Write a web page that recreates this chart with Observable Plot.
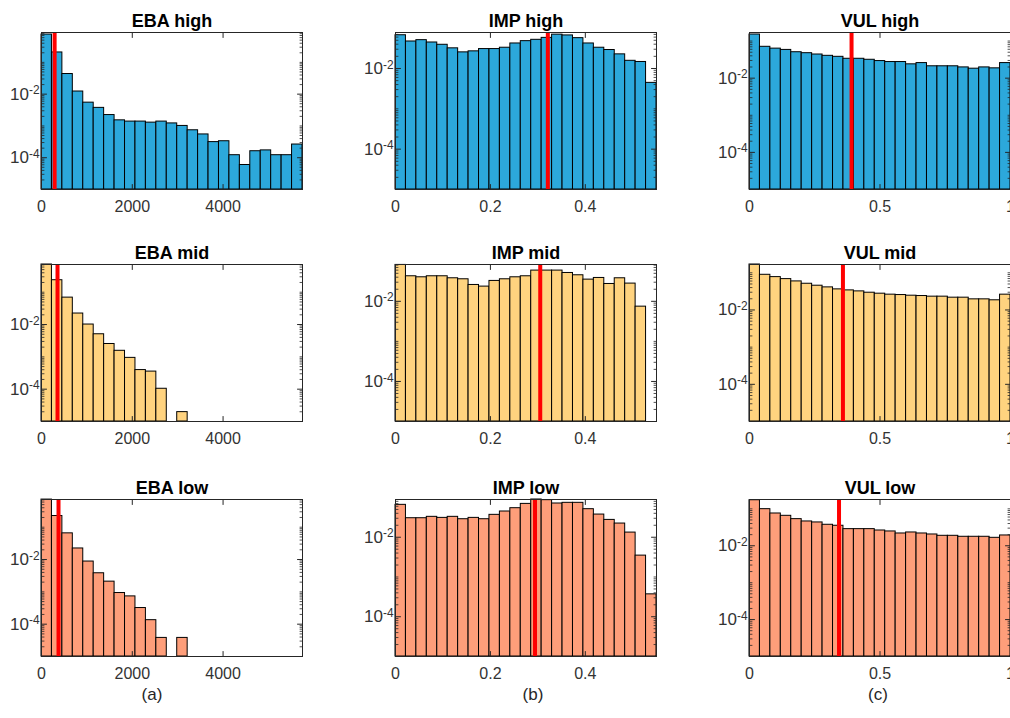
<!DOCTYPE html>
<html><head><meta charset="utf-8">
<script src="https://cdn.jsdelivr.net/npm/d3@7"></script>
<script src="https://cdn.jsdelivr.net/npm/@observablehq/plot@0.6"></script>
<style>
html,body{margin:0;padding:0;background:#fff;overflow:hidden;}
#root{position:relative;width:1010px;height:718px;overflow:hidden;font-family:"Liberation Sans",Arial,sans-serif;background:#fff;}
.panel{position:absolute;}
.cap{position:absolute;font-size:17px;line-height:17px;color:#262626;transform:translateX(-50%);white-space:nowrap;}
</style></head><body><div id="root"></div>
<script>
// ---- data (probability per bin, log scale) ----
const ebaHigh = [0.75,0.205,0.043,0.0121,0.0054,0.0037,0.0022,0.0015,0.00137,0.00137,0.00127,0.00137,0.0012,0.001,0.00073,0.00054,0.00031,0.00033,0.00012,0.000059,0.00016,0.00017,0.00012,0.00012,0.00026];
const ebaMid  = [0.72,0.235,0.068,0.0219,0.01,0.005,0.0025,0.00154,0.00093,0.00039,0.00035,0.000103,0,0.0000195,0,0,0,0,0,0,0,0,0,0,0];
const ebaLow  = [0.716,0.222,0.0646,0.022,0.00867,0.00376,0.00207,0.00092,0.000724,0.000316,0.000133,0.0000376,0,0.0000376,0,0,0,0,0,0,0,0,0,0,0];
const impHigh = [0.0667,0.0467,0.0504,0.0441,0.0387,0.0316,0.0251,0.0266,0.0303,0.0303,0.0327,0.0417,0.0476,0.0514,0.0574,0.069,0.066,0.0565,0.0417,0.0327,0.0287,0.0224,0.0155,0.0145,0.0044];
const impMid  = [0.081,0.0422,0.0398,0.0422,0.0422,0.0376,0.0355,0.0256,0.0233,0.0323,0.0355,0.0398,0.0422,0.0585,0.0585,0.0585,0.051,0.0447,0.0348,0.0383,0.0271,0.0376,0.0277,0.00736,0];
const impLow  = [0.0653,0.0301,0.0301,0.0326,0.0307,0.0326,0.0284,0.0307,0.0284,0.0366,0.0444,0.0538,0.069,0.089,0.0857,0.0706,0.0734,0.0734,0.0508,0.0372,0.0273,0.0221,0.0131,0.00345,0.000366];
const vulHigh = [0.15,0.07,0.0625,0.0577,0.05,0.0471,0.0434,0.04,0.0376,0.0333,0.0333,0.0313,0.0289,0.0272,0.0272,0.0236,0.0255,0.0209,0.0209,0.0209,0.0195,0.018,0.0195,0.0184,0.0255];
const vulMid  = [0.167,0.0883,0.0765,0.0676,0.0586,0.0507,0.0449,0.0405,0.0358,0.0336,0.0316,0.0291,0.0274,0.0258,0.0252,0.0242,0.0237,0.0228,0.0228,0.0214,0.0214,0.0193,0.0193,0.0182,0.0258];
const vulLow  = [0.171,0.098,0.0748,0.0647,0.0526,0.0455,0.0428,0.037,0.0348,0.0282,0.0282,0.0282,0.0259,0.0244,0.0215,0.0229,0.0215,0.0202,0.0186,0.0186,0.0175,0.0175,0.0175,0.0164,0.019];

// red reference lines
const ebaMarkers = [289, 353, 375];
const impMarkers = [0.321, 0.305, 0.294];
const vulMarkers = [0.391, 0.358, 0.343];

// bins and axes
const ebaBin = 230, impBin = 0.022, vulBin = 0.04;
const ebaTicks = [0, 2000, 4000];
const impTicks = [0, 0.2, 0.4];
const vulTicks = [0, 0.5, 1];
const yTicks = [1e-4, 1e-2];
const yMin = 1e-5;
const yMaxHigh = [0.87, 0.078, 0.17];
const yMaxMid  = [0.72, 0.083, 0.167];
const yMaxLow  = [0.72, 0.089, 0.179];

const rows = ["high", "mid", "low"];
const colors = ["#2CA8DB", "#FFD37F", "#FE9E7A"];
const captions = ["(a)", "(b)", "(c)"];

// ---- layout ----
const colLeft = [41, 395, 749];
const rowTop = [32, 264, 499];
const W = 261, H = 157;
const mL = 44, mR = 10, mT = 30, mB = 30;
const ink = "#262626";

const cols = [
  {name: "EBA", series: [ebaHigh, ebaMid, ebaLow], bin: ebaBin, ticks: ebaTicks, markers: ebaMarkers},
  {name: "IMP", series: [impHigh, impMid, impLow], bin: impBin, ticks: impTicks, markers: impMarkers},
  {name: "VUL", series: [vulHigh, vulMid, vulLow], bin: vulBin, ticks: vulTicks, markers: vulMarkers}
];
const yMaxes = [yMaxHigh, yMaxMid, yMaxLow];

const up = {draw(ctx, l) { ctx.moveTo(0, 0); ctx.lineTo(0, -l); }};
const root = document.getElementById("root");

rows.forEach((rowName, r) => {
  cols.forEach((c, ci) => {
    const vals = c.series[r];
    const n = vals.length;
    const xMax = c.bin * n;
    const yMax = yMaxes[r][ci];
    const bars = vals.map((v, i) => ({x1: i * c.bin, x2: (i + 1) * c.bin, v})).filter(d => d.v > 0);
    const minor = d3.scaleLog().domain([yMin, yMax]).ticks().filter(t => !yTicks.some(m => Math.abs(m - t) / m < 1e-6));
    const plot = Plot.plot({
      width: mL + W + mR,
      height: mT + H + mB,
      marginLeft: mL, marginRight: mR, marginTop: mT, marginBottom: mB,
      style: {fontFamily: "'Liberation Sans', Arial, sans-serif", fontSize: "16px", color: ink, background: "transparent", overflow: "visible"},
      x: {domain: [0, xMax]},
      y: {type: "log", domain: [yMin, yMax]},
      marks: [
        Plot.rect(bars, {x1: "x1", x2: "x2", y1: () => yMin, y2: "v", fill: colors[r], stroke: "black", strokeWidth: 1}),
        Plot.ruleX([c.markers[r]], {stroke: "#FF0000", strokeWidth: 4}),
        // inward ticks
        Plot.vector(c.ticks, {x: d => d, frameAnchor: "bottom", rotate: 0, anchor: "start", length: 5, shape: up, stroke: ink, strokeWidth: 1}),
        Plot.vector(c.ticks, {x: d => d, frameAnchor: "top", rotate: 180, anchor: "start", length: 5, shape: up, stroke: ink, strokeWidth: 1}),
        Plot.vector(yTicks, {y: d => d, frameAnchor: "left", rotate: 90, anchor: "start", length: 5, shape: up, stroke: ink, strokeWidth: 1}),
        Plot.vector(yTicks, {y: d => d, frameAnchor: "right", rotate: -90, anchor: "start", length: 5, shape: up, stroke: ink, strokeWidth: 1}),
        Plot.vector(minor, {y: d => d, frameAnchor: "left", rotate: 90, anchor: "start", length: 2.5, shape: up, stroke: ink, strokeWidth: 0.8}),
        Plot.vector(minor, {y: d => d, frameAnchor: "right", rotate: -90, anchor: "start", length: 2.5, shape: up, stroke: ink, strokeWidth: 0.8}),
        Plot.axisX(c.ticks, {tickSize: 0, tickPadding: 11, tickFormat: d => String(d), fill: "#333", fontSize: 16, label: null}),
        Plot.axisY(yTicks, {anchor: "left", tickSize: 0, tickPadding: 2, tickFormat: d => "10|" + Math.round(Math.log10(d)), fill: "#333", fontSize: 17, label: null}),
        Plot.frame({stroke: ink, strokeWidth: 1}),
        Plot.text([`${c.name} ${rowName}`], {frameAnchor: "top", dy: -6, lineAnchor: "bottom", fontWeight: "bold", fontSize: 18, fill: "black"})
      ]
    });
    // superscript exponents for log tick labels
    plot.querySelectorAll('g[aria-label="y-axis tick label"] text').forEach(t => {
      const parts = t.textContent.split("|");
      if (parts.length !== 2) return;
      t.textContent = parts[0];
      const ts = document.createElementNS("http://www.w3.org/2000/svg", "tspan");
      ts.setAttribute("dy", "-0.45em");
      ts.setAttribute("font-size", "0.7em");
      ts.textContent = parts[1];
      t.appendChild(ts);
    });
    plot.classList.add("panel");
    plot.style.left = (colLeft[ci] - mL) + "px";
    plot.style.top = (rowTop[r] - mT) + "px";
    root.appendChild(plot);
  });
});

const capX = [152, 533, 878];
captions.forEach((t, i) => {
  const d = document.createElement("div");
  d.className = "cap";
  d.textContent = t;
  d.style.left = capX[i] + "px";
  d.style.top = "686px";
  root.appendChild(d);
});
</script></body></html>
